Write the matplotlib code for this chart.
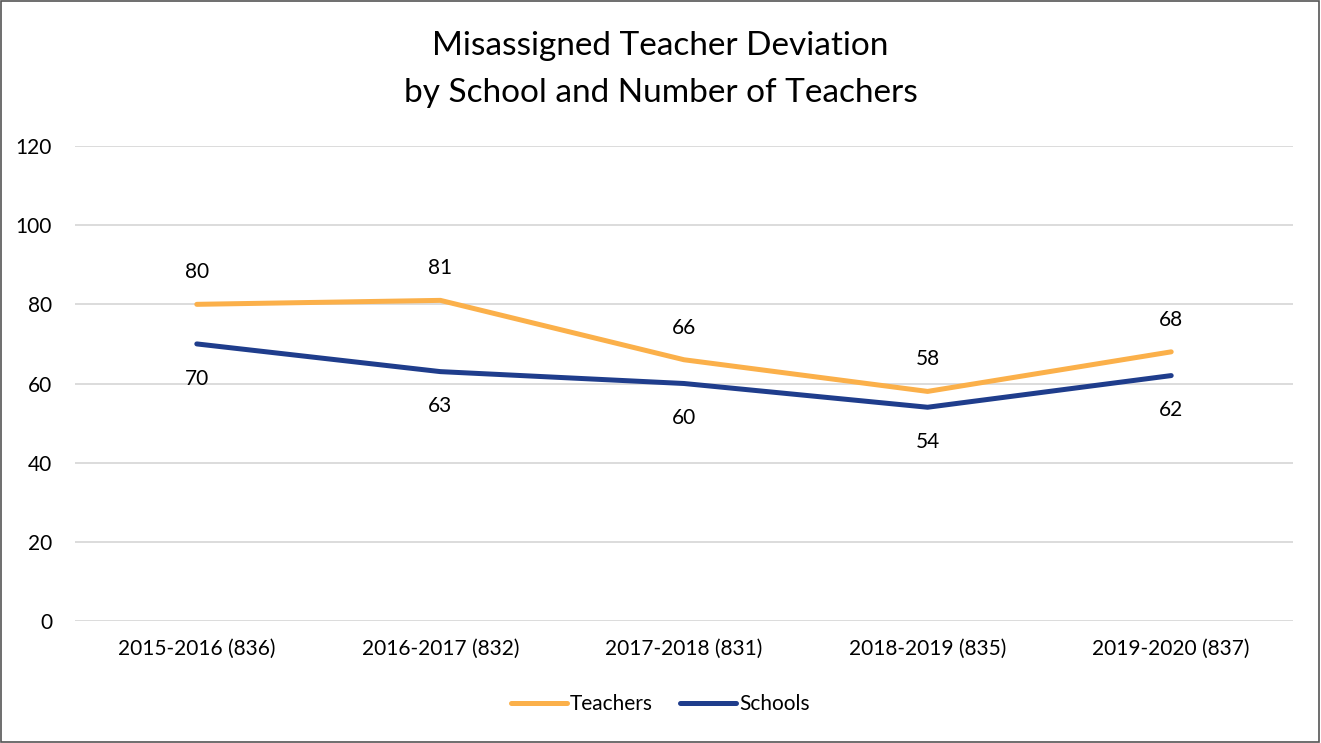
import matplotlib
matplotlib.use("Agg")
import matplotlib.pyplot as plt
from matplotlib.patches import Rectangle

categories = ["2015-2016 (836)", "2016-2017 (832)", "2017-2018 (831)", "2018-2019 (835)", "2019-2020 (837)"]
teachers = [80, 81, 66, 58, 68]
schools = [70, 63, 60, 54, 62]
yticks = [0, 20, 40, 60, 80, 100, 120]

plt.rcParams['font.family'] = ['Lato', 'DejaVu Sans']

orange = "#FBB04A"
blue = "#1F3D8C"

fig = plt.figure(figsize=(13.21, 7.43), dpi=100)
ax = fig.add_axes([75/1321, 122/743, 1218/1321, 475/743])

x = list(range(len(categories)))
ax.plot(x, teachers, color=orange, lw=3.6, label="Teachers", solid_capstyle='round', solid_joinstyle='round', zorder=3)
ax.plot(x, schools, color=blue, lw=3.6, label="Schools", solid_capstyle='round', solid_joinstyle='round', zorder=3)

fs = 15
for xi, v in zip(x, teachers):
    ax.annotate(str(v), (xi, v), xytext=(0, 23), textcoords='offset points', ha='center', va='center', fontsize=fs, color='#000000')
for xi, v in zip(x, schools):
    ax.annotate(str(v), (xi, v), xytext=(0, -25), textcoords='offset points', ha='center', va='center', fontsize=fs, color='#000000')

ax.set_xlim(-0.5, len(categories) - 0.5)
ax.set_ylim(0, 120)
ax.set_yticks(yticks)
ax.set_yticklabels([str(t) for t in yticks], fontsize=fs)
ax.set_xticks(x)
ax.set_xticklabels(categories, fontsize=fs)
ax.tick_params(axis='both', length=0, colors='#000000')
ax.tick_params(axis='y', pad=16.5)
ax.tick_params(axis='x', pad=13)
ax.grid(axis='y', color='#D9D9D9', lw=1.3, zorder=0)
ax.set_axisbelow(True)
for s in ax.spines.values():
    s.set_visible(False)

fig.text(0.5, 1 - 46/743, "Misassigned Teacher Deviation", ha='center', va='center', fontsize=24)
fig.text(0.5, 1 - 93/743, "by School and Number of Teachers", ha='center', va='center', fontsize=24)

leg = fig.legend(loc='center', bbox_to_anchor=(0.5, 1 - 704/743), ncol=2, frameon=False,
                 fontsize=fs, handlelength=2.7, handletextpad=0.15, columnspacing=1.3)

fig.add_artist(Rectangle((0.0005, 0.001), 0.998, 0.998, transform=fig.transFigure, fill=False, edgecolor='#555555', lw=1.2))

fig.savefig("out.png", dpi=100)
